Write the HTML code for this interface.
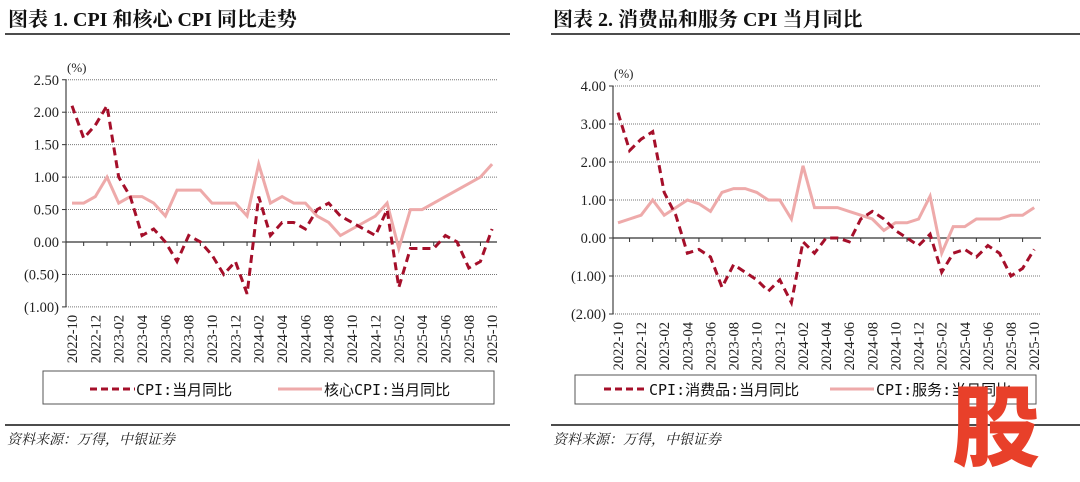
<!DOCTYPE html>
<html><head><meta charset="utf-8"><style>
body{margin:0;background:#fff;width:1080px;height:482px;overflow:hidden;font-family:"Liberation Serif","Noto Serif CJK SC",serif}
svg{position:absolute;left:0;top:0}
</style></head><body>
<svg id="s" width="1080" height="482" xmlns="http://www.w3.org/2000/svg" font-family="Liberation Serif, Noto Serif CJK SC, serif">
<text x="8" y="26" font-size="20" font-weight="bold" fill="#111">图表 1. CPI 和核心 CPI 同比走势</text>
<text x="553" y="26" font-size="20" font-weight="bold" fill="#111">图表 2. 消费品和服务 CPI 当月同比</text>
<line x1="5" y1="34" x2="510" y2="34" stroke="#111" stroke-width="1.5"/>
<line x1="551" y1="34" x2="1080" y2="34" stroke="#111" stroke-width="1.5"/>
<line x1="5" y1="425" x2="510" y2="425" stroke="#111" stroke-width="1.5"/>
<line x1="551" y1="425" x2="1080" y2="425" stroke="#111" stroke-width="1.5"/>
<text x="7" y="444" font-size="14" font-style="italic" fill="#222" font-family="Noto Serif CJK SC, serif">资料来源：万得，中银证券</text>
<text x="553" y="444" font-size="14" font-style="italic" fill="#222" font-family="Noto Serif CJK SC, serif">资料来源：万得，中银证券</text>
<rect x="43" y="371" width="451" height="33" fill="none" stroke="#555"/>
<rect x="575" y="375" width="461" height="29" fill="none" stroke="#555"/>
<line x1="90" y1="389" x2="135" y2="389" stroke="#a50f2a" stroke-width="3" stroke-dasharray="7,4"/>
<text x="136" y="395" font-size="15" fill="#111" font-family="DejaVu Sans Mono, Noto Sans CJK SC, monospace">CPI:当月同比</text>
<line x1="278" y1="389" x2="322" y2="389" stroke="#eeaaaa" stroke-width="3"/>
<text x="324" y="395" font-size="15" fill="#111" font-family="DejaVu Sans Mono, Noto Sans CJK SC, monospace">核心CPI:当月同比</text>
<line x1="604" y1="389" x2="648" y2="389" stroke="#a50f2a" stroke-width="3" stroke-dasharray="7,4"/>
<text x="649" y="395" font-size="15" fill="#111" font-family="DejaVu Sans Mono, Noto Sans CJK SC, monospace">CPI:消费品:当月同比</text>
<line x1="830" y1="389" x2="874" y2="389" stroke="#eeaaaa" stroke-width="3"/>
<text x="876" y="395" font-size="15" fill="#111" font-family="DejaVu Sans Mono, Noto Sans CJK SC, monospace">CPI:服务:当月同比</text>
<text x="952" y="459" font-size="88" font-weight="900" fill="#e8402a" font-family="Noto Sans CJK SC, sans-serif">股</text>
<g id="g"></g>
</svg>
<script>
var g=document.getElementById('g'),h='';
var labels=[];for(var i=0;i<37;i+=2){var y=2022,m=10+i;while(m>12){m-=12;y++;}labels.push(y+'-'+(m<10?'0':'')+m);}
function chart(o){
 var Y=function(v){return o.y0-(v)*o.py;};
 for(var k=0;k<o.ticks.length;k++){var v=o.ticks[k],yy=Y(v);
  if(v!==0)h+='<line x1="'+o.ax+'" y1="'+yy+'" x2="'+o.right+'" y2="'+yy+'" stroke="#777" stroke-dasharray="1,1"/>';
  h+='<line x1="'+(o.ax-4)+'" y1="'+yy+'" x2="'+o.ax+'" y2="'+yy+'" stroke="#333"/>';
  var t=v<0?'('+Math.abs(v).toFixed(2)+')':v.toFixed(2);
  h+='<text x="'+(o.ax-7)+'" y="'+(yy+5)+'" font-size="14.5" text-anchor="end" fill="#222">'+t+'</text>';}
 h+='<text x="'+(o.ax+1)+'" y="'+(Y(o.ticks[o.ticks.length-1])-8)+'" font-size="13" fill="#222">(%)</text>';
 h+='<line x1="'+o.ax+'" y1="'+Y(o.ticks[0])+'" x2="'+o.ax+'" y2="'+Y(o.ticks[o.ticks.length-1])+'" stroke="#444" stroke-width="1.2"/>';
 h+='<line x1="'+o.ax+'" y1="'+Y(0)+'" x2="'+o.right+'" y2="'+Y(0)+'" stroke="#333" stroke-width="1.2"/>';
 var bot=Y(o.ticks[0]);
 for(var i=0;i<37;i+=2){var x=o.x0+i*o.st;
  if(i<36)h+='<line x1="'+(x+o.st)+'" y1="'+Y(0)+'" x2="'+(x+o.st)+'" y2="'+(Y(0)+4)+'" stroke="#333"/>';
  h+='<text transform="translate('+(x+5)+','+(bot+8)+') rotate(-90)" font-size="14.5" text-anchor="end" fill="#222">'+labels[i/2]+'</text>';}
 function pl(d,st,da){var p=d.map(function(v,i){return (o.x0+i*o.st).toFixed(1)+','+Y(v).toFixed(1)}).join(' ');
  h+='<polyline points="'+p+'" fill="none" stroke="'+st+'" stroke-width="3" stroke-linejoin="miter" '+(da?'stroke-dasharray="8,5"':'')+'/>';}
 pl(o.b,'#eeaaaa',false);pl(o.a,'#a50f2a',true);
}
chart({ax:66,right:497,y0:242,py:64.9,x0:72,st:11.67,ticks:[-1,-0.5,0,0.5,1,1.5,2,2.5],
 a:[2.1,1.6,1.8,2.1,1.0,0.7,0.1,0.2,0.0,-0.3,0.1,0.0,-0.2,-0.5,-0.3,-0.8,0.7,0.1,0.3,0.3,0.2,0.5,0.6,0.4,0.3,0.2,0.1,0.5,-0.7,-0.1,-0.1,-0.1,0.1,0.0,-0.4,-0.3,0.2],
 b:[0.6,0.6,0.7,1.0,0.6,0.7,0.7,0.6,0.4,0.8,0.8,0.8,0.6,0.6,0.6,0.4,1.2,0.6,0.7,0.6,0.6,0.4,0.3,0.1,0.2,0.3,0.4,0.6,-0.1,0.5,0.5,0.6,0.7,0.8,0.9,1.0,1.2]});
chart({ax:613,right:1041,y0:238,py:38,x0:618,st:11.56,ticks:[-2,-1,0,1,2,3,4],
 a:[3.3,2.3,2.6,2.8,1.2,0.6,-0.4,-0.3,-0.5,-1.3,-0.7,-0.9,-1.1,-1.4,-1.1,-1.7,-0.1,-0.4,0.0,0.0,-0.1,0.5,0.7,0.5,0.2,0.0,-0.2,0.1,-0.9,-0.4,-0.3,-0.5,-0.2,-0.4,-1.0,-0.8,-0.3],
 b:[0.4,0.5,0.6,1.0,0.6,0.8,1.0,0.9,0.7,1.2,1.3,1.3,1.2,1.0,1.0,0.5,1.9,0.8,0.8,0.8,0.7,0.6,0.5,0.2,0.4,0.4,0.5,1.1,-0.4,0.3,0.3,0.5,0.5,0.5,0.6,0.6,0.8]});
g.innerHTML=h;
</script>
</body></html>
